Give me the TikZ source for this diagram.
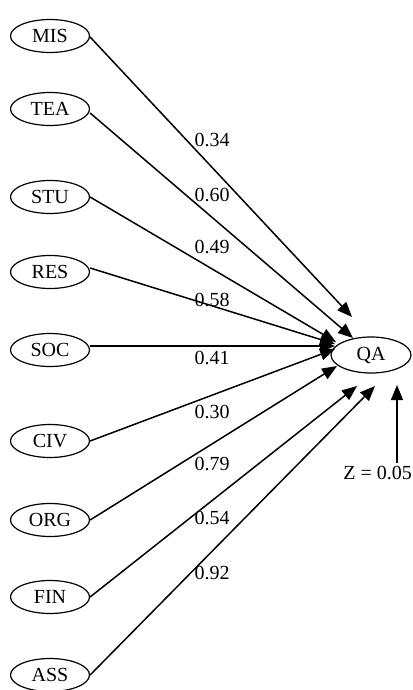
\documentclass[tikz,border=0pt]{standalone}
\usepackage{fontspec}
\setmainfont{Liberation Serif}
\usetikzlibrary{shapes.geometric,arrows.meta}
\begin{document}
\begin{tikzpicture}[x=1pt,y=-1pt,
  var/.style={draw,ellipse,line width=1.2pt,minimum width=79pt,minimum height=33pt,inner sep=0pt,font=\fontsize{20}{20}\selectfont},
  path/.style={line width=1.5pt,-{Triangle[length=15pt,width=12pt]}},
  coef/.style={font=\fontsize{20}{20}\selectfont,inner sep=0pt}]
\fill[white] (0,0) rectangle (412,690);
\useasboundingbox (0,0) rectangle (412,690);
\node[var] (MIS) at (50,36) {MIS};
\node[var] (TEA) at (50,109) {TEA};
\node[var] (STU) at (50,197) {STU};
\node[var] (RES) at (50,272) {RES};
\node[var] (SOC) at (50,350) {SOC};
\node[var] (CIV) at (50,441) {CIV};
\node[var] (ORG) at (50,520) {ORG};
\node[var] (FIN) at (50,597) {FIN};
\node[var] (ASS) at (50,675) {ASS};
\node[var,minimum width=80pt,minimum height=36pt] (QA) at (371,355) {QA};
\coordinate (tMIS) at (352,317);
\coordinate (tTEA) at (353,338);
\coordinate (tSTU) at (336,342);
\coordinate (tRES) at (335,344);
\coordinate (tSOC) at (335,346);
\coordinate (tCIV) at (335,349);
\coordinate (tORG) at (337,366);
\coordinate (tFIN) at (357,386);
\coordinate (tASS) at (375,386);
\coordinate (tZ) at (397,385);
\draw[path] (MIS.east) ++(0,1) -- (tMIS);
\draw[path] (TEA.east) ++(0,4) -- (tTEA);
\draw[path] (STU.east) -- (tSTU);
\draw[path] (RES.east) ++(0,-4) -- (tRES);
\draw[path] (SOC.east) ++(0,-4) -- (tSOC);
\draw[path] (CIV.east) -- (tCIV);
\draw[path] (ORG.east) -- (tORG);
\draw[path] (FIN.east) -- (tFIN);
\draw[path] (ASS.east) -- (tASS);
\node[coef] (c1) at (212,140) {0.34};
\node[coef] (c2) at (212,195) {0.60};
\node[coef] (c3) at (212,247) {0.49};
\node[coef] (c4) at (212,300) {0.58};
\node[coef] (c5) at (212,358) {0.41};
\node[coef] (c6) at (212,412) {0.30};
\node[coef] (c7) at (212,464) {0.79};
\node[coef] (c8) at (212,518) {0.54};
\node[coef] (c9) at (212,573) {0.92};
\node[coef,anchor=east] (Z) at (412,473) {Z = 0.05};
\coordinate (zs) at (397,463);
\draw[path] (zs) -- (tZ);
\end{tikzpicture}
\end{document}
